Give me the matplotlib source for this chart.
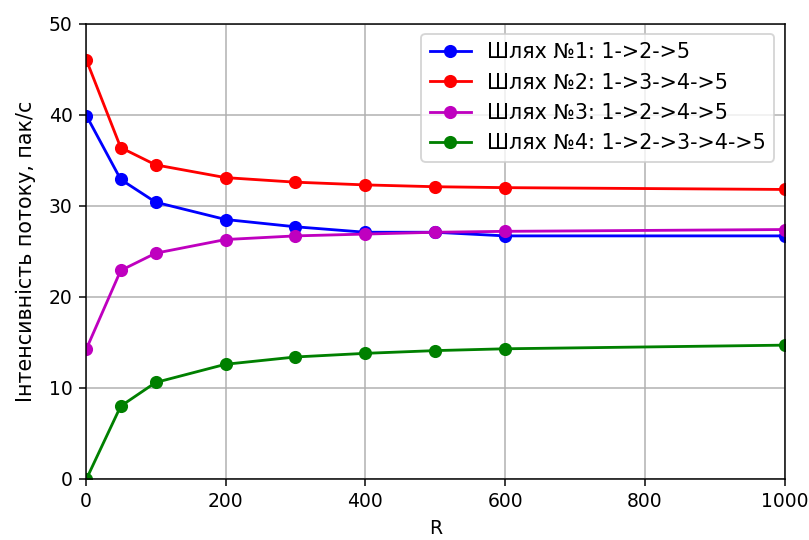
import matplotlib
matplotlib.use('Agg')
import matplotlib.pyplot as plt

# R values and flow intensity per path
r_values = [1, 50, 100, 200, 300, 400, 500, 600, 1000]
path1 = [39.9, 32.9, 30.4, 28.5, 27.7, 27.1, 27.1, 26.7, 26.7]
path2 = [46.0, 36.4, 34.5, 33.1, 32.6, 32.3, 32.1, 32.0, 31.8]
path3 = [14.3, 22.9, 24.8, 26.3, 26.7, 26.9, 27.1, 27.2, 27.4]
path4 = [0.0, 8.0, 10.6, 12.6, 13.4, 13.8, 14.1, 14.3, 14.7]

labels = ["Шлях №1: 1->2->5", "Шлях №2: 1->3->4->5",
          "Шлях №3: 1->2->4->5", "Шлях №4: 1->2->3->4->5"]
colors = ['b', 'r', 'm', 'g']

fig, ax = plt.subplots(figsize=(809 / 135, 540 / 135), dpi=135)
fig.subplots_adjust(left=0.106, right=0.970, top=0.956, bottom=0.113)

for series, color, label in zip([path1, path2, path3, path4], colors, labels):
    ax.plot(r_values, series, color=color, marker='o', label=label)

ax.set_xlim(0, 1000)
ax.set_ylim(0, 50)
ax.set_xlabel("R")
ax.set_ylabel("Інтенсивність потоку, пак/с", fontsize=11, labelpad=7)
ax.grid(True)
ax.legend(loc='upper right', fontsize=11)

fig.savefig('out.png', dpi=135)
